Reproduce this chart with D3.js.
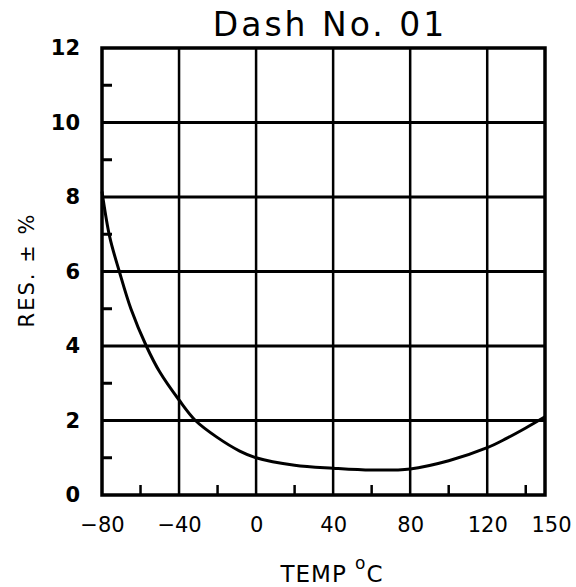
<!DOCTYPE html>
<html>
<head>
<meta charset="utf-8">
<script src="https://cdn.jsdelivr.net/npm/d3@7"></script>
<style>
  html, body { margin: 0; padding: 0; background: #fff; }
  svg { display: block; }
  text { fill: #000; }
</style>
</head>
<body>
<svg id="chart"></svg>
<script>
// values (temperature in °C, resistance change in ±%)
const temps = [-80, -76, -71, -65, -57, -50, -40, -31.5, -20, -8.5, 0, 20, 40, 60, 80, 100, 120, 130, 140, 150]
const resPct = [8.15, 6.93, 6.0, 5.0, 4.0, 3.3, 2.55, 2.0, 1.54, 1.18, 1.0, 0.8, 0.72, 0.67, 0.7, 0.92, 1.27, 1.52, 1.8, 2.1]

const xLabels = [-80, -40, 0, 40, 80, 120, 150]
const xGrid = [-40, 0, 40, 80, 120]
const xMinor = [-60, -20, 20, 60, 100, 140]
const yLabels = [0, 2, 4, 6, 8, 10, 12]
const yGrid = [2, 4, 6, 8, 10]
const yMinor = [1, 3, 5, 7, 9, 11]

const width = 576
const height = 587
const plot = { left: 102, right: 545, top: 48, bottom: 495 }

const svg = d3.select('#chart')
  .attr('width', width)
  .attr('height', height)

const x = d3.scaleLinear().domain([-80, 150]).range([plot.left, plot.right])
const y = d3.scaleLinear().domain([0, 12]).range([plot.bottom, plot.top])

// grid
svg.append('g')
  .selectAll('line')
  .data(xGrid)
  .enter().append('line')
  .attr('x1', d => x(d)).attr('x2', d => x(d))
  .attr('y1', y(0)).attr('y2', y(12))
  .attr('stroke', '#000')
  .attr('stroke-width', 2.5)

svg.append('g')
  .selectAll('line')
  .data(yGrid)
  .enter().append('line')
  .attr('x1', x(-80)).attr('x2', x(150))
  .attr('y1', d => y(d)).attr('y2', d => y(d))
  .attr('stroke', '#000')
  .attr('stroke-width', 3)

// minor ticks pointing inward
svg.append('g')
  .selectAll('line')
  .data(yMinor)
  .enter().append('line')
  .attr('x1', x(-80)).attr('x2', x(-80) + 10)
  .attr('y1', d => y(d)).attr('y2', d => y(d))
  .attr('stroke', '#000')
  .attr('stroke-width', 3)

svg.append('g')
  .selectAll('line')
  .data(xMinor)
  .enter().append('line')
  .attr('x1', d => x(d)).attr('x2', d => x(d))
  .attr('y1', y(0)).attr('y2', y(0) - 10)
  .attr('stroke', '#000')
  .attr('stroke-width', 2.5)

// frame
svg.append('rect')
  .attr('x', x(-80))
  .attr('y', y(12))
  .attr('width', x(150) - x(-80))
  .attr('height', y(0) - y(12))
  .attr('fill', 'none')
  .attr('stroke', '#000')
  .attr('stroke-width', 3.5)

// curve
const line = d3.line()
  .x(d => x(d[0]))
  .y(d => y(d[1]))
  .curve(d3.curveCatmullRom.alpha(0.5))

svg.append('path')
  .datum(d3.zip(temps, resPct))
  .attr('d', line)
  .attr('fill', 'none')
  .attr('stroke', '#000')
  .attr('stroke-width', 3)

// axis labels, no lines
const xAxis = svg.append('g')
  .attr('transform', `translate(0, ${y(0)})`)
  .call(d3.axisBottom(x).tickValues(xLabels).tickSize(0).tickPadding(22).tickFormat(d3.format('d')))
xAxis.select('.domain').remove()
xAxis.selectAll('text')
  .attr('font-family', 'DejaVu Sans, sans-serif')
  .attr('font-size', 21)
  .attr('dx', d => d === 150 ? 6 : 0)

const yAxis = svg.append('g')
  .attr('transform', `translate(${x(-80)}, 0)`)
  .call(d3.axisLeft(y).tickValues(yLabels).tickSize(0).tickPadding(22))
yAxis.select('.domain').remove()
yAxis.selectAll('text')
  .attr('font-family', 'DejaVu Sans, sans-serif')
  .attr('font-weight', 'bold')
  .attr('font-size', 21)

// titles
svg.append('text')
  .attr('x', 330)
  .attr('y', 36)
  .attr('text-anchor', 'middle')
  .attr('font-family', 'DejaVu Sans, sans-serif')
  .attr('font-size', 33)
  .attr('letter-spacing', 3)
  .text('Dash No. 01')

const xTitle = svg.append('text')
  .attr('x', 332)
  .attr('y', 582)
  .attr('text-anchor', 'middle')
  .attr('font-family', 'DejaVu Sans, sans-serif')
  .attr('font-size', 23)
  .attr('letter-spacing', 1)
xTitle.append('tspan').text('TEMP ')
xTitle.append('tspan').attr('dy', -13).attr('font-size', 17).text('o')
xTitle.append('tspan').attr('dy', 13).text('C')

svg.append('text')
  .attr('transform', 'translate(34, 270) rotate(-90)')
  .attr('text-anchor', 'middle')
  .attr('font-family', 'DejaVu Sans, sans-serif')
  .attr('font-size', 21)
  .attr('letter-spacing', 2)
  .text('RES. ± %')
</script>
</body>
</html>
